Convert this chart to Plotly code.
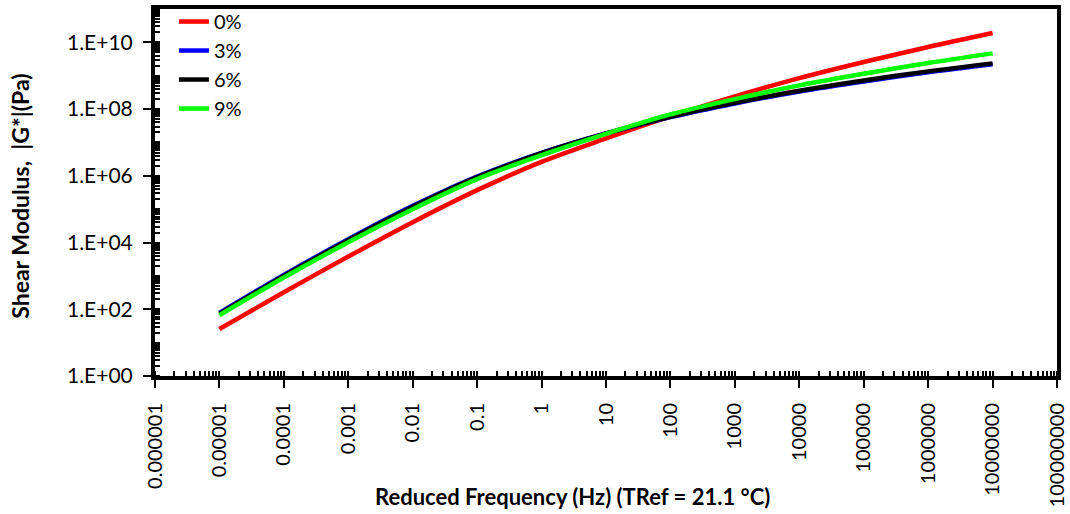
import plotly.graph_objects as go

# Reduced frequency (Hz), one point per decade
freq = [1e-5, 1e-4, 1e-3, 1e-2, 1e-1, 1e0, 1e1, 1e2, 1e3, 1e4, 1e5, 1e6, 1e7]

# log10 of |G*| (Pa)
log_g_0 = [1.41, 2.51, 3.58, 4.61, 5.57, 6.42, 7.12, 7.78, 8.38, 8.93, 9.41, 9.86, 10.28]
log_g_3 = [1.89, 3.03, 4.10, 5.10, 5.98, 6.69, 7.27, 7.76, 8.17, 8.53, 8.83, 9.10, 9.34]
log_g_6 = [1.86, 3.00, 4.07, 5.07, 5.96, 6.68, 7.27, 7.77, 8.19, 8.55, 8.86, 9.13, 9.37]
log_g_9 = [1.82, 2.95, 4.01, 5.00, 5.90, 6.62, 7.26, 7.84, 8.30, 8.71, 9.06, 9.38, 9.67]

series = [
    ("0%", log_g_0, "#ff0000"),
    ("3%", log_g_3, "#0000ff"),
    ("6%", log_g_6, "#000000"),
    ("9%", log_g_9, "#00ff00"),
]

x_tickvals = [1e-6, 1e-5, 1e-4, 1e-3, 1e-2, 1e-1, 1, 10, 100, 1000, 1e4, 1e5, 1e6, 1e7, 1e8]
x_ticktext = ["0.000001", "0.00001", "0.0001", "0.001", "0.01", "0.1", "1", "10", "100",
              "1000", "10000", "100000", "1000000", "10000000", "100000000"]
y_tickvals = [1e0, 1e2, 1e4, 1e6, 1e8, 1e10]
y_ticktext = ["1.E+00", "1.E+02", "1.E+04", "1.E+06", "1.E+08", "1.E+10"]

x_title = "Reduced Frequency (Hz) (TRef = 21.1 °C)"
y_title = "Shear Modulus,  |G*|(Pa)"

FONT = "Lato"

fig = go.Figure()
for name, lg, color in series:
    fig.add_trace(go.Scatter(
        x=freq, y=[10 ** v for v in lg], name=name, mode="lines",
        line=dict(color=color, width=4.5, shape="spline", smoothing=0.9),
    ))

fig.update_layout(
    width=1070, height=514,
    margin=dict(l=155, r=13, t=9, b=138, autoexpand=False),
    paper_bgcolor="white", plot_bgcolor="white",
    font=dict(family=FONT, color="black", size=20),
    legend=dict(
        x=0.021, y=1.019, xanchor="left", yanchor="top",
        bgcolor="rgba(0,0,0,0)", font=dict(family=FONT, size=20, color="black"),
        tracegroupgap=0, itemwidth=30,
    ),
    showlegend=True,
    annotations=[
        dict(text="<b>" + x_title + "</b>", xref="paper", yref="paper",
             x=0.463, y=-0.327, xanchor="center", yanchor="middle", showarrow=False,
             font=dict(family=FONT, size=22, color="black")),
        dict(text="<b>" + y_title + "</b>", xref="paper", yref="paper",
             x=-0.149, y=0.49, xanchor="center", yanchor="middle", showarrow=False,
             textangle=-90, font=dict(family=FONT, size=23, color="black")),
    ],
)

fig.update_xaxes(
    type="log", range=[-6, 8], automargin=False,
    tickvals=x_tickvals, ticktext=x_ticktext, tickangle=-90,
    ticks="outside", ticklen=8, tickwidth=2, tickcolor="black", ticklabelstandoff=7,
    tickfont=dict(family=FONT, size=20, color="black"),
    minor=dict(ticks="inside", ticklen=5, tickwidth=1.5, tickcolor="black", dtick="D1"),
    showline=True, linecolor="black", linewidth=4, mirror=True,
    showgrid=False, zeroline=False,
)
fig.update_yaxes(
    type="log", range=[0, 11], automargin=False,
    tickvals=y_tickvals, ticktext=y_ticktext,
    ticks="outside", ticklen=8, tickwidth=2, tickcolor="black", ticklabelstandoff=6,
    tickfont=dict(family=FONT, size=21, color="black"),
    minor=dict(ticks="inside", ticklen=5, tickwidth=1.5, tickcolor="black", dtick="D1"),
    showline=True, linecolor="black", linewidth=4, mirror=True,
    showgrid=False, zeroline=False,
)

fig.write_html("out.html")
